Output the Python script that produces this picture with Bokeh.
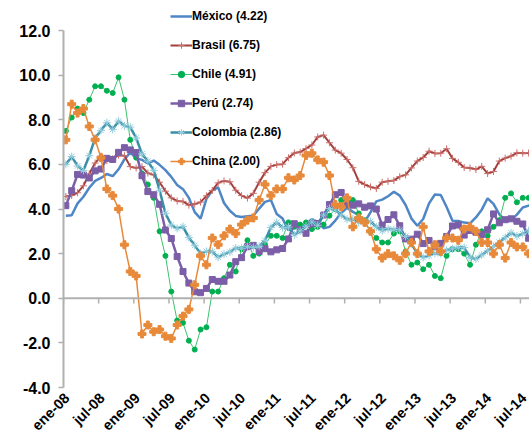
import math
from bokeh.plotting import figure
from bokeh.models import Range1d, FixedTicker, NumeralTickFormatter, Span, Legend, LegendItem
from bokeh.embed import file_html
from bokeh.resources import INLINE

tick_labels = ["ene-08", "jul-08", "ene-09", "jul-09", "ene-10", "jul-10", "ene-11",
               "jul-11", "ene-12", "jul-12", "ene-13", "jul-13", "ene-14", "jul-14"]
y_ticks = [-4, -2, 0, 2, 4, 6, 8, 10, 12]

mexico = [3.70, 3.72, 4.25, 4.55, 4.95, 5.26, 5.39, 5.57, 5.47, 5.78, 6.23, 6.53,
          6.28, 6.20, 6.04, 6.17, 5.98, 5.74, 5.44, 5.08, 4.89, 4.50, 3.86, 3.57,
          4.46, 4.83, 4.97, 4.27, 3.92, 3.69, 3.64, 3.68, 3.70, 4.02, 4.32, 4.40,
          3.78, 3.57, 3.04, 3.36, 3.25, 3.28, 3.55, 3.42, 3.14, 3.20, 3.48, 3.82,
          4.05, 3.87, 3.73, 3.41, 3.85, 4.34, 4.42, 4.57, 4.77, 4.60, 4.18, 3.57,
          3.25, 3.55, 4.25, 4.65, 4.63, 4.09, 3.47, 3.46, 3.39, 3.36, 3.62, 3.97,
          4.48, 4.23, 3.76, 3.50, 3.51, 3.75, 4.07, 4.15, 4.22]
brasil = [4.56, 4.61, 4.73, 5.04, 5.58, 6.06, 6.37, 6.17, 6.25, 6.41, 6.39, 5.90,
          5.84, 5.90, 5.61, 5.53, 5.20, 4.80, 4.50, 4.36, 4.34, 4.17, 4.22, 4.31,
          4.59, 4.83, 5.17, 5.26, 5.22, 4.84, 4.60, 4.49, 4.70, 5.20, 5.63, 5.91,
          5.99, 6.01, 6.30, 6.51, 6.55, 6.71, 6.87, 7.23, 7.31, 6.97, 6.64, 6.50,
          6.22, 5.85, 5.24, 5.10, 4.99, 4.92, 5.20, 5.24, 5.28, 5.45, 5.53, 5.84,
          6.15, 6.31, 6.59, 6.49, 6.50, 6.70, 6.27, 6.09, 5.86, 5.84, 5.77, 5.91,
          5.59, 5.68, 6.15, 6.28, 6.37, 6.52, 6.50, 6.51, 6.75]
chile = [7.5, 8.1, 8.5, 8.3, 8.9, 9.5, 9.5, 9.3, 9.2, 9.9, 8.9, 7.1,
         6.3, 5.6, 5.1, 4.5, 3.0, 1.9, 0.3, -1.0, -1.1, -1.9, -2.3, -1.4,
         -1.3, 0.3, 0.3, 0.9, 1.5, 1.2, 2.2, 2.6, 1.9, 2.0, 2.4, 2.8,
         2.8, 2.7, 3.4, 3.2, 3.3, 3.4, 3.1, 3.2, 3.3, 3.7, 4.0, 4.4,
         4.2, 4.4, 3.8, 3.5, 3.0, 2.7, 2.5, 2.5, 2.9, 3.0, 2.1, 1.5,
         1.6, 1.3, 1.5, 1.0, 0.9, 1.9, 2.2, 2.2, 2.0, 1.5, 2.4, 3.0,
         2.8, 3.2, 3.5, 4.5, 4.7, 4.3, 4.5, 4.5, 4.9]
peru = [4.15, 4.82, 5.55, 5.52, 5.39, 5.71, 5.79, 6.27, 6.22, 6.54, 6.75, 6.65,
        6.53, 5.49, 4.78, 4.64, 4.21, 3.06, 2.68, 1.87, 1.20, 0.68, 0.29, 0.25,
        0.44, 0.84, 0.76, 0.76, 1.04, 1.64, 1.82, 2.31, 2.37, 2.10, 2.22, 2.08,
        2.17, 2.23, 2.66, 3.34, 3.07, 2.91, 3.35, 3.35, 3.73, 4.20, 4.64, 4.74,
        4.23, 4.17, 4.23, 4.08, 4.14, 4.00, 3.28, 3.53, 3.74, 3.25, 2.66, 2.65,
        2.87, 2.45, 2.59, 2.31, 2.46, 2.77, 3.24, 3.28, 2.83, 3.04, 2.96, 2.86,
        3.07, 3.78, 3.38, 3.52, 3.56, 3.45, 3.33, 2.69, 2.74]
colombia = [6.00, 6.35, 5.93, 5.73, 6.39, 7.18, 7.52, 7.87, 7.57, 7.94, 7.73, 7.67,
            7.18, 6.47, 6.14, 5.73, 4.84, 3.81, 3.28, 3.13, 3.21, 2.72, 2.37, 2.00,
            2.10, 2.09, 1.84, 1.98, 2.07, 2.25, 2.24, 2.31, 2.28, 2.33, 2.59, 3.17,
            3.40, 3.17, 3.19, 2.84, 3.02, 3.23, 3.42, 3.27, 3.73, 4.02, 3.96, 3.73,
            3.54, 3.55, 3.40, 3.43, 3.44, 3.20, 3.03, 3.11, 3.08, 3.06, 2.77, 2.44,
            2.00, 1.83, 1.91, 2.02, 2.00, 2.16, 2.22, 2.27, 2.27, 1.84, 1.76, 1.94,
            2.13, 2.32, 2.51, 2.72, 2.93, 2.79, 2.89, 3.02, 2.86]
china = [7.1, 8.7, 8.3, 8.5, 7.7, 7.1, 6.3, 4.9, 4.6, 4.0, 2.4, 1.2,
         1.0, -1.6, -1.2, -1.5, -1.4, -1.7, -1.8, -1.2, -0.8, -0.5, 0.6, 1.9,
         1.5, 2.7, 2.4, 2.8, 3.1, 2.9, 3.3, 3.5, 3.6, 4.4, 5.1, 4.6,
         4.9, 4.9, 5.4, 5.3, 5.5, 6.4, 6.5, 6.2, 6.1, 5.5, 4.2, 4.1,
         4.5, 3.2, 3.6, 3.4, 3.0, 2.2, 1.8, 2.0, 1.9, 1.7, 2.0, 2.5,
         2.0, 3.2, 2.1, 2.4, 2.1, 2.7, 2.7, 2.6, 3.1, 3.2, 3.0, 2.5,
         2.5, 2.0, 2.4, 1.8, 2.5, 2.3, 2.3, 2.0]
names = ["México (4.22)", "Brasil (6.75)", "Chile (4.91)", "Perú (2.74)",
         "Colombia (2.86)", "China (2.00)"]

FONT = "Liberation Sans"
x_tick_pos = [6 * k for k in range(len(tick_labels))]
# label anchor sits a little right of each month-start tick, as in the original
x_label_pos = [t + 0.6 for t in x_tick_pos]


def xs(vals):
    return [i + 0.4 for i in range(len(vals))]


p = figure(width=529, height=447, x_range=Range1d(0, 79.55), y_range=Range1d(-4, 13.345),
           output_backend="svg", toolbar_location=None,
           min_border_left=63, min_border_right=0, min_border_top=0, min_border_bottom=60)
p.xgrid.visible = False
p.ygrid.visible = False
p.outline_line_color = None
p.background_fill_color = "white"

# y axis
p.yaxis.ticker = FixedTicker(ticks=y_ticks)
p.yaxis.bounds = (-4, 12)
p.yaxis.formatter = NumeralTickFormatter(format="0.0")
p.yaxis.axis_line_color = "#B0B0B0"
p.yaxis.axis_line_width = 2
p.yaxis.major_tick_line_color = "#B0B0B0"
p.yaxis.major_tick_line_width = 1.5
p.yaxis.major_tick_out = 5
p.yaxis.major_tick_in = 0
p.yaxis.minor_tick_line_color = None
p.yaxis.major_label_standoff = 8
p.yaxis.major_label_text_font = FONT
p.yaxis.major_label_text_font_style = "bold"
p.yaxis.major_label_text_font_size = "16px"
p.yaxis.major_label_text_color = "black"

# x axis (labels only)
p.xaxis.ticker = FixedTicker(ticks=x_label_pos)
p.xaxis.major_label_overrides = {t: lab for t, lab in zip(x_label_pos, tick_labels)}
p.xaxis.axis_line_color = None
p.xaxis.major_tick_line_color = None
p.xaxis.major_tick_out = 0
p.xaxis.major_tick_in = 0
p.xaxis.minor_tick_line_color = None
p.xaxis.minor_tick_out = 0
p.xaxis.major_label_orientation = math.pi / 4
p.xaxis.major_label_standoff = 8
p.xaxis.major_label_text_font = FONT
p.xaxis.major_label_text_font_style = "bold"
p.xaxis.major_label_text_font_size = "14.5px"
p.xaxis.major_label_text_color = "black"

# zero line with ticks
p.add_layout(Span(location=0, dimension="width", line_color="#B0B0B0", line_width=2))
p.segment(x0=x_tick_pos, y0=[0] * len(x_tick_pos), x1=x_tick_pos, y1=[-0.24] * len(x_tick_pos),
          line_color="#B0B0B0", line_width=1.5)

items = []
r1 = p.line(xs(mexico), mexico, line_color="#4F86C6", line_width=2.5)
items.append(LegendItem(label=names[0], renderers=[r1]))

r2 = p.line(xs(brasil), brasil, line_color="#A3403D", line_width=2)
m2 = p.scatter(xs(brasil), brasil, marker="cross", size=7, line_color="#CC6E6B", line_width=1)
items.append(LegendItem(label=names[1], renderers=[r2, m2]))

r3 = p.line(xs(chile), chile, line_color="#3CC46E", line_width=1)
m3 = p.scatter(xs(chile), chile, marker="circle", size=5, fill_color="#00B050", line_color="#00B050")
items.append(LegendItem(label=names[2], renderers=[r3, m3]))

r4 = p.line(xs(peru), peru, line_color="#7B5EA7", line_width=2.5)
m4 = p.scatter(xs(peru), peru, marker="square", size=6, fill_color="#7B5EA7", line_color="#7B5EA7")
items.append(LegendItem(label=names[3], renderers=[r4, m4]))

r5 = p.line(xs(colombia), colombia, line_color="#3A8FA6", line_width=2.5)
m5 = p.scatter(xs(colombia), colombia, marker="asterisk", size=8, line_color="#93CDDD", line_width=1)
items.append(LegendItem(label=names[4], renderers=[r5, m5]))

r6 = p.line(xs(china), china, line_color="#E8893A", line_width=1.5)
m6 = p.scatter(xs(china), china, marker="plus", size=8, fill_color="#E8893A", line_color="#E8893A")
items.append(LegendItem(label=names[5], renderers=[r6, m6]))

legend = Legend(items=items, location=(107, 218), orientation="vertical",
                label_text_font=FONT, label_text_font_style="bold", label_text_font_size="12px",
                label_text_color="black", glyph_width=22, glyph_height=16, label_height=16,
                spacing=13, padding=0, margin=0, label_standoff=0,
                border_line_color=None, background_fill_alpha=0)
p.add_layout(legend)

open("out.html", "w").write(file_html(p, INLINE))
